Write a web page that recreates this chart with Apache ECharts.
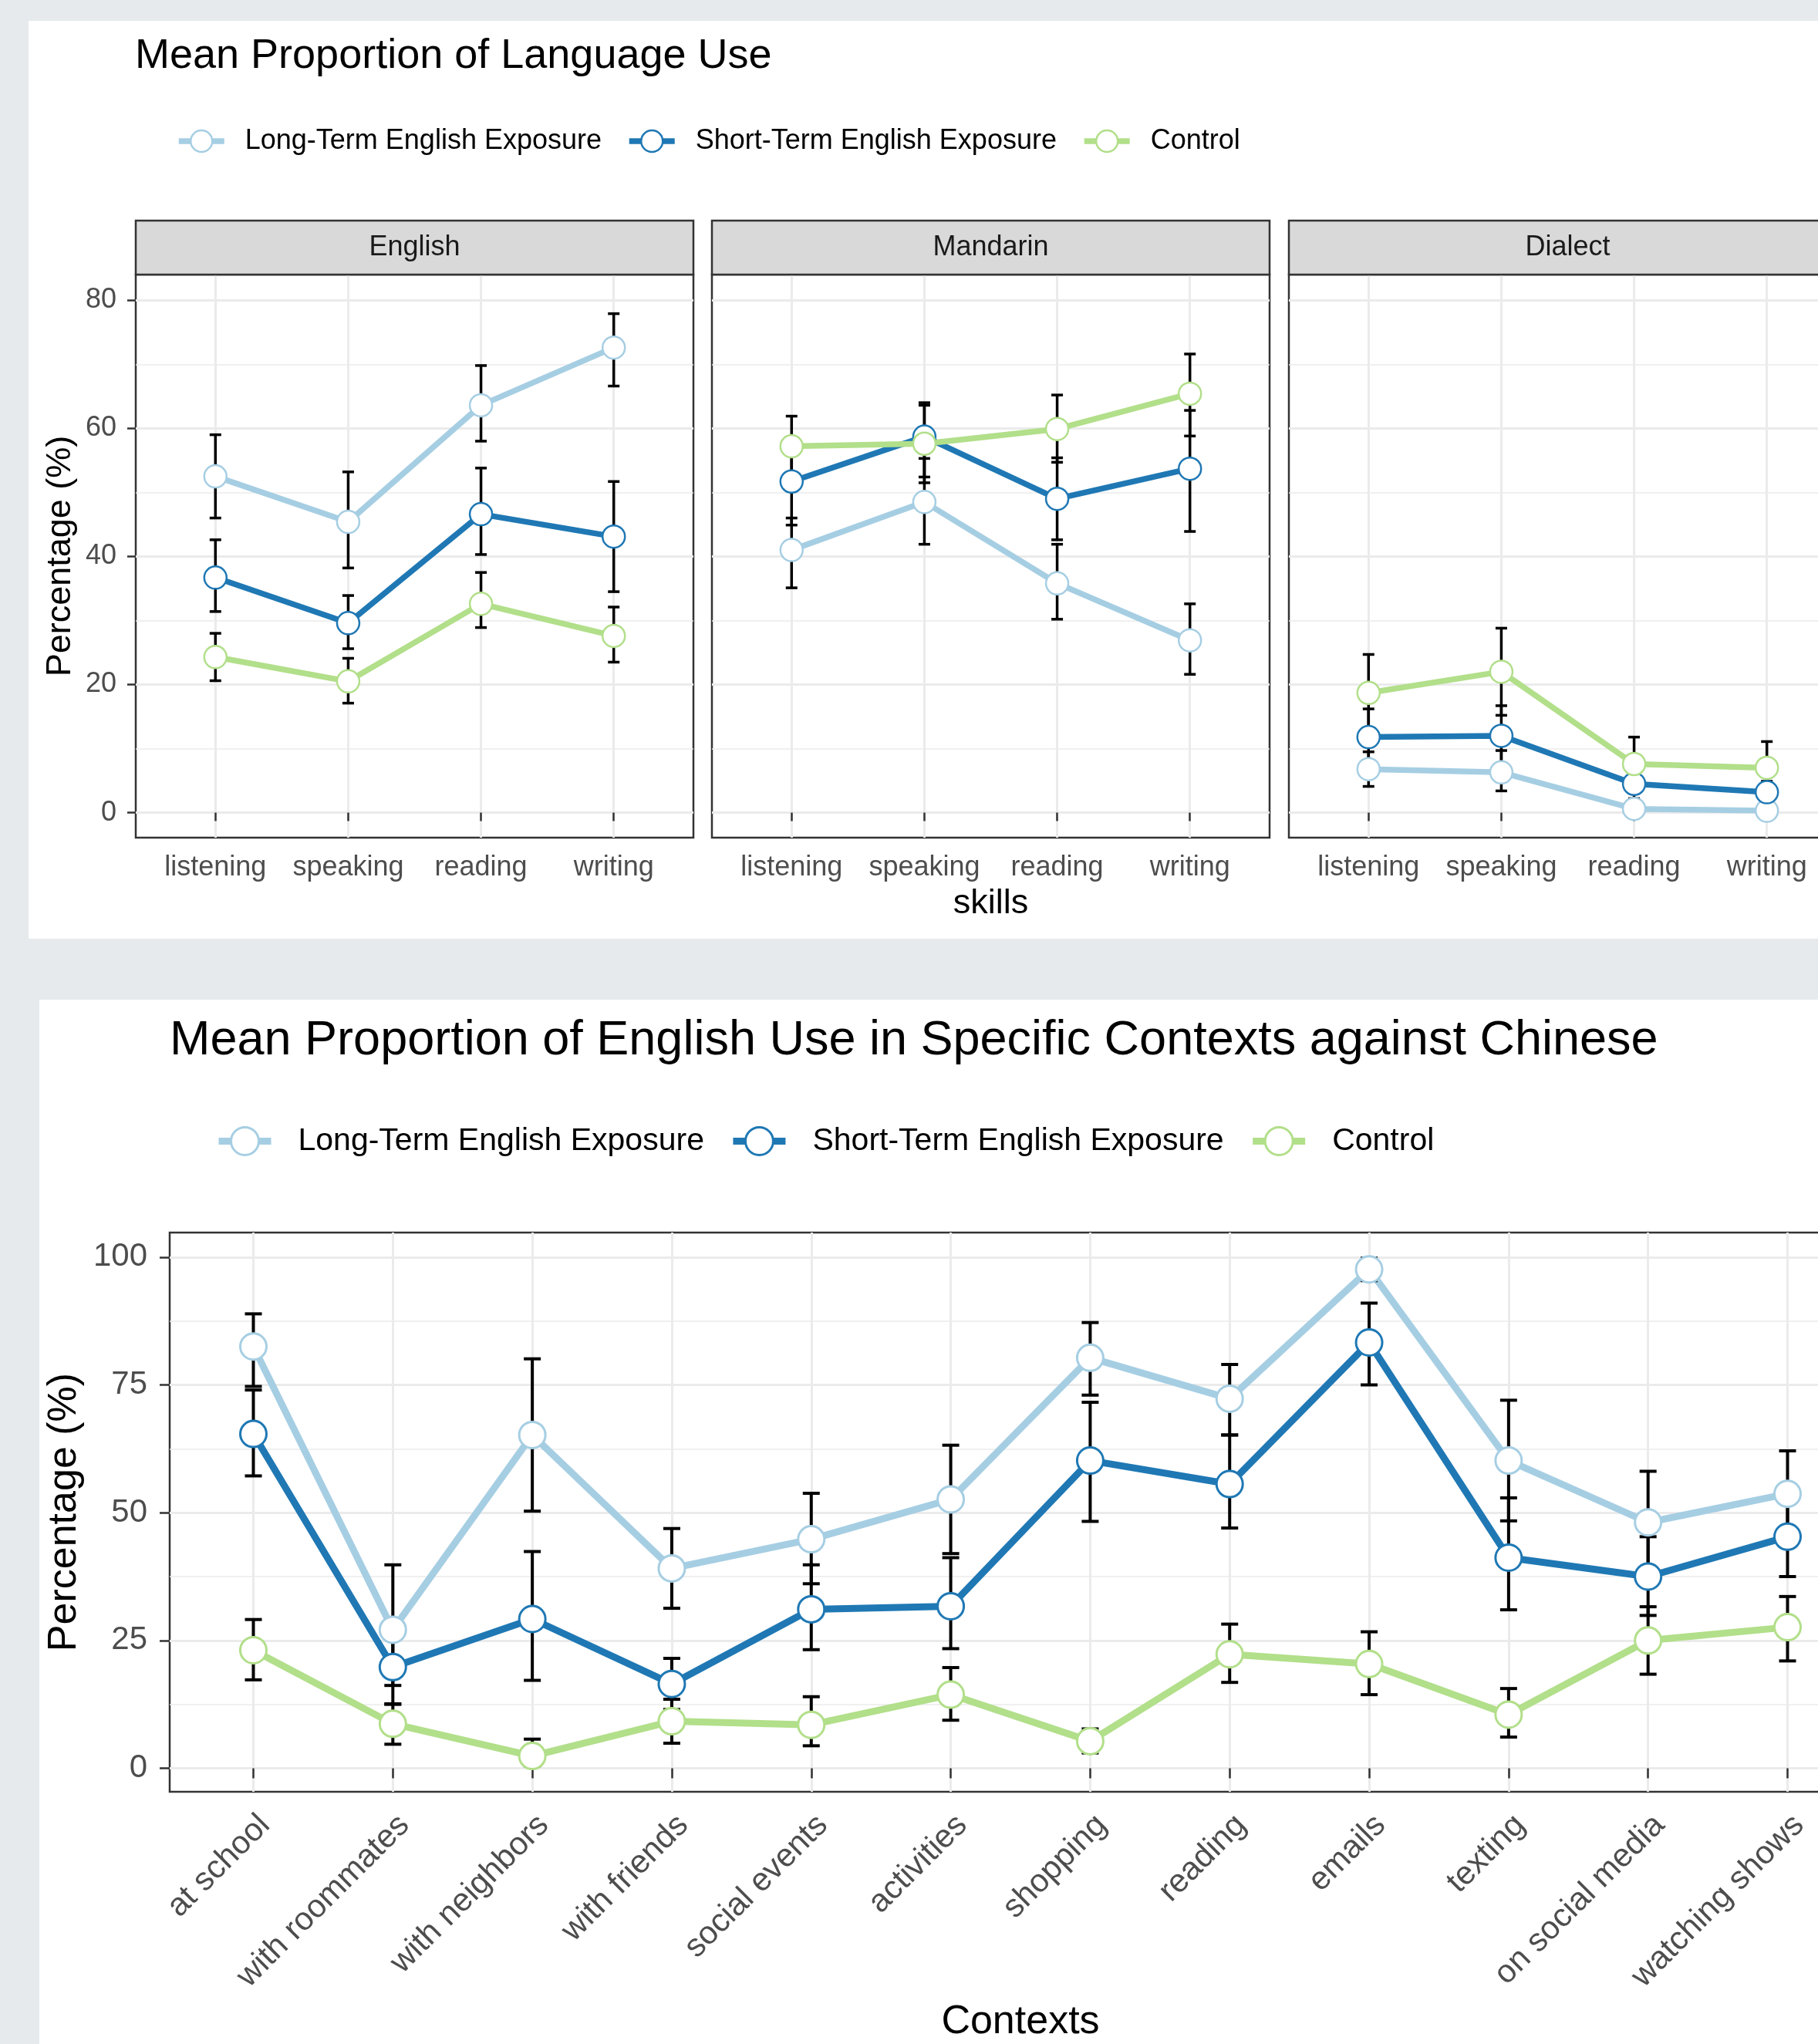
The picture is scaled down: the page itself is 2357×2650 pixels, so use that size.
<!DOCTYPE html>
<html>
<head>
<meta charset="utf-8">
<script src="https://cdn.jsdelivr.net/npm/echarts@6/dist/echarts.min.js"></script>
<style>
  html, body { margin: 0; padding: 0; background: #e6eaed; }
  #chart { width: 2357px; height: 2650px; }
</style>
</head>
<body>
<div id="chart"></div>
<script>
// ---------- data ----------
const groups = ['Long-Term English Exposure', 'Short-Term English Exposure', 'Control'];
const groupColors = ['#a6cee3', '#1f78b4', '#b2df8a'];

// Panel 1: proportion of language use by skill (rows: English, Mandarin, Dialect)
const languages = ['English', 'Mandarin', 'Dialect'];
const skills = ['listening', 'speaking', 'reading', 'writing'];

const skillLongMean  = [[52.5, 45.4, 63.6, 72.6], [41.0, 48.5, 35.8, 26.9], [6.8, 6.3, 0.6, 0.3]];
const skillLongLow   = [[46.0, 38.2, 58.0, 66.6], [35.1, 41.9, 30.2, 21.6], [4.1, 3.4, 0.1, 0.1]];
const skillLongHigh  = [[59.0, 53.2, 69.8, 77.9], [46.0, 55.3, 41.9, 32.6], [9.5, 9.7, 1.2, 0.6]];

const skillShortMean = [[36.7, 29.6, 46.6, 43.1], [51.7, 58.7, 49.0, 53.7], [11.8, 12.0, 4.5, 3.2]];
const skillShortLow  = [[31.4, 25.6, 40.3, 34.5], [44.9, 52.4, 42.6, 43.9], [7.4, 7.3, 2.2, 1.5]];
const skillShortHigh = [[42.6, 33.9, 53.8, 51.7], [57.4, 64.0, 55.4, 62.8], [16.2, 16.7, 6.8, 4.9]];

const skillCtrlMean  = [[24.3, 20.5, 32.6, 27.6], [57.2, 57.6, 59.9, 65.4], [18.7, 22.0, 7.6, 7.0]];
const skillCtrlLow   = [[20.6, 17.1, 28.9, 23.5], [52.5, 51.5, 54.7, 58.8], [12.7, 15.2, 3.4, 2.9]];
const skillCtrlHigh  = [[28.0, 24.1, 37.5, 32.1], [61.9, 63.6, 65.2, 71.6], [24.7, 28.8, 11.8, 11.1]];

const skillTicks = [0, 20, 40, 60, 80];
const skillMinorTicks = [10, 30, 50, 70];

// Panel 2: proportion of English use by context
const contexts = ['at school', 'with roommates', 'with neighbors', 'with friends', 'social events',
  'activities', 'shopping', 'reading', 'emails', 'texting', 'on social media', 'watching shows'];

const ctxLongMean  = [82.5, 27.1, 65.2, 39.1, 44.8, 52.6, 80.3, 72.3, 97.6, 60.2, 48.1, 53.7];
const ctxLongLow   = [74.7, 16.2, 50.3, 31.3, 36.1, 42.0, 73.0, 65.2, 95.4, 48.4, 38.1, 45.3];
const ctxLongHigh  = [88.9, 39.8, 80.1, 46.9, 53.8, 63.2, 87.2, 79.0, 99.8, 72.0, 58.1, 62.1];

const ctxShortMean = [65.4, 19.8, 29.2, 16.5, 31.1, 31.7, 60.2, 55.6, 83.3, 41.2, 37.5, 45.3];
const ctxShortLow  = [57.2, 12.6, 17.2, 11.5, 23.2, 23.4, 48.3, 47.0, 75.0, 31.0, 29.9, 37.5];
const ctxShortHigh = [74.0, 27.0, 42.4, 21.5, 39.8, 41.2, 71.6, 65.2, 91.0, 52.9, 45.3, 53.0];

const ctxCtrlMean  = [23.1, 8.7, 2.4, 9.2, 8.5, 14.4, 5.3, 22.3, 20.4, 10.5, 25.0, 27.6];
const ctxCtrlLow   = [17.3, 4.7, 0.4, 4.9, 4.4, 9.4, 3.0, 16.8, 14.4, 6.1, 18.4, 21.0];
const ctxCtrlHigh  = [29.1, 12.5, 5.7, 13.5, 14.0, 19.7, 7.7, 28.2, 26.7, 15.6, 31.6, 33.6];

const contextTicks = [0, 25, 50, 75, 100];
const contextMinorTicks = [12.5, 37.5, 62.5, 87.5];

// ---------- styling ----------
const FONT = '"Liberation Sans", Arial, Helvetica, sans-serif';
const BORDER = '#333333';
const GRID_MAJOR = '#ebebeb';
const TICK_TEXT = '#4d4d4d';

const chart = echarts.init(document.getElementById('chart'), null, { renderer: 'canvas' });

// layout of the facet panels
const facetLeft = [176, 923, 1671];
const facetTop = 356, facetW = 723, facetH = 730, stripH = 70;
const ctxGrid = { left: 220, top: 1598, width: 2206, height: 725 };
const gridBase = { show: true, borderColor: BORDER, borderWidth: 2.5, backgroundColor: 'transparent', outerBoundsMode: 'none', containLabel: false };

const grids = facetLeft.map(left => Object.assign({ left, top: facetTop, width: facetW, height: facetH }, gridBase));
grids.push(Object.assign({}, ctxGrid, gridBase));

const xAxes = [];
const yAxes = [];

languages.forEach((lang, i) => {
  xAxes.push({
    type: 'value', gridIndex: i, min: 0.4, max: skills.length + 0.6,
    axisLine: { show: false },
    axisTick: { show: true, length: 11, lineStyle: { color: BORDER, width: 2.5 }, customValues: skills.map((s, k) => k + 1) },
    axisLabel: {
      customValues: skills.map((s, k) => k + 1),
      formatter: v => skills[Math.round(v) - 1],
      fontSize: 36, color: TICK_TEXT, fontFamily: FONT, margin: 21
    },
    splitLine: { show: true, lineStyle: { color: GRID_MAJOR, width: 3 } },
    name: i === 1 ? 'skills' : '', nameLocation: 'middle', nameGap: 63,
    nameTextStyle: { fontSize: 45, color: '#000', fontFamily: FONT }
  });
  yAxes.push({
    type: 'value', gridIndex: i, min: -3.9, max: 84,
    axisLine: { show: false },
    axisTick: { show: i === 0, length: 11, lineStyle: { color: BORDER, width: 2.5 }, customValues: skillTicks },
    axisLabel: { show: i === 0, customValues: skillTicks, fontSize: 36, color: TICK_TEXT, fontFamily: FONT, margin: 25 },
    splitLine: { show: true, lineStyle: { color: GRID_MAJOR, width: 3 } },
    name: i === 0 ? 'Percentage (%)' : '', nameLocation: 'middle', nameGap: 75, nameRotate: 90,
    nameTextStyle: { fontSize: 45, color: '#000', fontFamily: FONT }
  });
  yAxes.push({
    type: 'value', gridIndex: i, min: -3.9, max: 84,
    axisLine: { show: false },
    axisTick: { show: false, customValues: skillMinorTicks },
    axisLabel: { show: false },
    splitLine: { show: true, lineStyle: { color: GRID_MAJOR, width: 1.6 } }
  });
});

xAxes.push({
  type: 'value', gridIndex: 3, min: 0.4, max: contexts.length + 0.6,
  axisLine: { show: false },
  axisTick: { show: true, length: 13, lineStyle: { color: BORDER, width: 2.5 }, customValues: contexts.map((c, k) => k + 1) },
  axisLabel: {
    customValues: contexts.map((c, k) => k + 1),
    formatter: v => contexts[Math.round(v) - 1],
    rotate: 45, verticalAlign: 'top',
    fontSize: 42, color: TICK_TEXT, fontFamily: FONT, margin: 22
  },
  splitLine: { show: true, lineStyle: { color: GRID_MAJOR, width: 3 } },
  name: 'Contexts', nameLocation: 'middle', nameGap: 273,
  nameTextStyle: { fontSize: 52, color: '#000', fontFamily: FONT }
});
yAxes.push({
  type: 'value', gridIndex: 3, min: -4.6, max: 104.8,
  axisLine: { show: false },
  axisTick: { show: true, length: 13, lineStyle: { color: BORDER, width: 2.5 }, customValues: contextTicks },
  axisLabel: { customValues: contextTicks, fontSize: 42, color: TICK_TEXT, fontFamily: FONT, margin: 29 },
  splitLine: { show: true, lineStyle: { color: GRID_MAJOR, width: 3 } },
  name: 'Percentage (%)', nameLocation: 'middle', nameGap: 107, nameRotate: 90,
  nameTextStyle: { fontSize: 52, color: '#000', fontFamily: FONT }
});
yAxes.push({
  type: 'value', gridIndex: 3, min: -4.6, max: 104.8,
  axisLine: { show: false },
  axisTick: { show: false, customValues: contextMinorTicks },
  axisLabel: { show: false },
  splitLine: { show: true, lineStyle: { color: GRID_MAJOR, width: 1.6 } }
});

// error bars: vertical whisker with caps, positioned through the axes
function errorBarSeries(name, gridIdx, rows, capHalf, width) {
  return {
    type: 'custom', name: name + ' error', xAxisIndex: gridIdx, yAxisIndex: gridIdx * 2,
    z: 3, silent: true, clip: false,
    encode: { x: 0, y: [1, 2] },
    data: rows,
    renderItem(params, api) {
      const x = api.value(0);
      const top = api.coord([x, api.value(2)]);
      const bot = api.coord([x, api.value(1)]);
      const st = { stroke: '#000', lineWidth: width };
      return {
        type: 'group',
        children: [
          { type: 'line', shape: { x1: top[0], y1: top[1], x2: bot[0], y2: bot[1] }, style: st },
          { type: 'line', shape: { x1: top[0] - capHalf, y1: top[1], x2: top[0] + capHalf, y2: top[1] }, style: st },
          { type: 'line', shape: { x1: bot[0] - capHalf, y1: bot[1], x2: bot[0] + capHalf, y2: bot[1] }, style: st }
        ]
      };
    }
  };
}

function groupSeries(gridIdx, means, lows, highs, lineW, ptSize, ptBorder, capHalf, barW) {
  const out = [];
  groups.forEach((g, gi) => {
    out.push({
      type: 'line', name: g, xAxisIndex: gridIdx, yAxisIndex: gridIdx * 2, z: 2,
      data: means[gi].map((v, k) => [k + 1, v]),
      showSymbol: false, symbol: 'circle', silent: true,
      lineStyle: { color: groupColors[gi], width: lineW, opacity: 1 },
      itemStyle: { color: '#fff', borderColor: groupColors[gi], borderWidth: ptBorder }
    });
  });
  const rows = [];
  groups.forEach((g, gi) => {
    means[gi].forEach((v, k) => rows.push([k + 1, lows[gi][k], highs[gi][k]]));
  });
  out.push(errorBarSeries('bars' + gridIdx, gridIdx, rows, capHalf, barW));
  groups.forEach((g, gi) => {
    out.push({
      type: 'scatter', name: g, xAxisIndex: gridIdx, yAxisIndex: gridIdx * 2, z: 4,
      data: means[gi].map((v, k) => [k + 1, v]),
      symbol: 'circle', symbolSize: ptSize, silent: true,
      itemStyle: { color: '#fff', borderColor: groupColors[gi], borderWidth: ptBorder, opacity: 1 }
    });
  });
  return out;
}

const series = [];
languages.forEach((lang, i) => {
  series.push(...groupSeries(i,
    [skillLongMean[i], skillShortMean[i], skillCtrlMean[i]],
    [skillLongLow[i], skillShortLow[i], skillCtrlLow[i]],
    [skillLongHigh[i], skillShortHigh[i], skillCtrlHigh[i]],
    7.5, 29, 2.5, 7.5, 3.5));
});
series.push(...groupSeries(3,
  [ctxLongMean, ctxShortMean, ctxCtrlMean],
  [ctxLongLow, ctxShortLow, ctxCtrlLow],
  [ctxLongHigh, ctxShortHigh, ctxCtrlHigh],
  9, 34, 3, 11, 4));

function legendData(lineW, border) {
  return groups.map((g, gi) => ({
    name: g,
    itemStyle: { color: '#fff', borderColor: groupColors[gi], borderWidth: border, opacity: 1 },
    lineStyle: { color: groupColors[gi], width: lineW, opacity: 1 }
  }));
}

// white page panels and facet strips
const graphics = [
  { type: 'rect', z: -10, shape: { x: 37, y: 27, width: 2320, height: 1190 }, style: { fill: '#ffffff' } },
  { type: 'rect', z: -10, shape: { x: 51, y: 1296, width: 2306, height: 1354 }, style: { fill: '#ffffff' } }
];
languages.forEach((lang, i) => {
  graphics.push({
    type: 'rect', z: 5,
    shape: { x: facetLeft[i], y: facetTop - stripH, width: facetW, height: stripH },
    style: { fill: '#d9d9d9', stroke: BORDER, lineWidth: 2.5 }
  });
  graphics.push({
    type: 'text', z: 6,
    x: facetLeft[i] + facetW / 2, y: facetTop - stripH / 2,
    style: { text: lang, fontSize: 36, fontFamily: FONT, fill: '#1a1a1a', align: 'center', verticalAlign: 'middle' }
  });
});

chart.setOption({
  animation: false,
  backgroundColor: '#e6eaed',
  title: [
    { text: 'Mean Proportion of Language Use', left: 175, top: 46, padding: 0,
      textStyle: { fontSize: 54, fontWeight: 'normal', color: '#000', fontFamily: FONT } },
    { text: 'Mean Proportion of English Use in Specific Contexts against Chinese', left: 220, top: 1318, padding: 0,
      textStyle: { fontSize: 63, fontWeight: 'normal', color: '#000', fontFamily: FONT } }
  ],
  legend: [
    { left: 228, top: 165, padding: 0, itemWidth: 59, itemHeight: 35, itemGap: 32, selectedMode: false,
      data: legendData(7.5, 2.5),
      textStyle: { fontSize: 36, color: '#000', fontFamily: FONT, padding: [0, 0, 0, 22] } },
    { left: 279, top: 1459, padding: 0, itemWidth: 68, itemHeight: 45, itemGap: 33, selectedMode: false,
      data: legendData(9, 3),
      textStyle: { fontSize: 41, color: '#000', fontFamily: FONT, padding: [0, 0, 0, 30] } }
  ],
  grid: grids,
  xAxis: xAxes,
  yAxis: yAxes,
  series,
  graphic: graphics
});
</script>
</body>
</html>
